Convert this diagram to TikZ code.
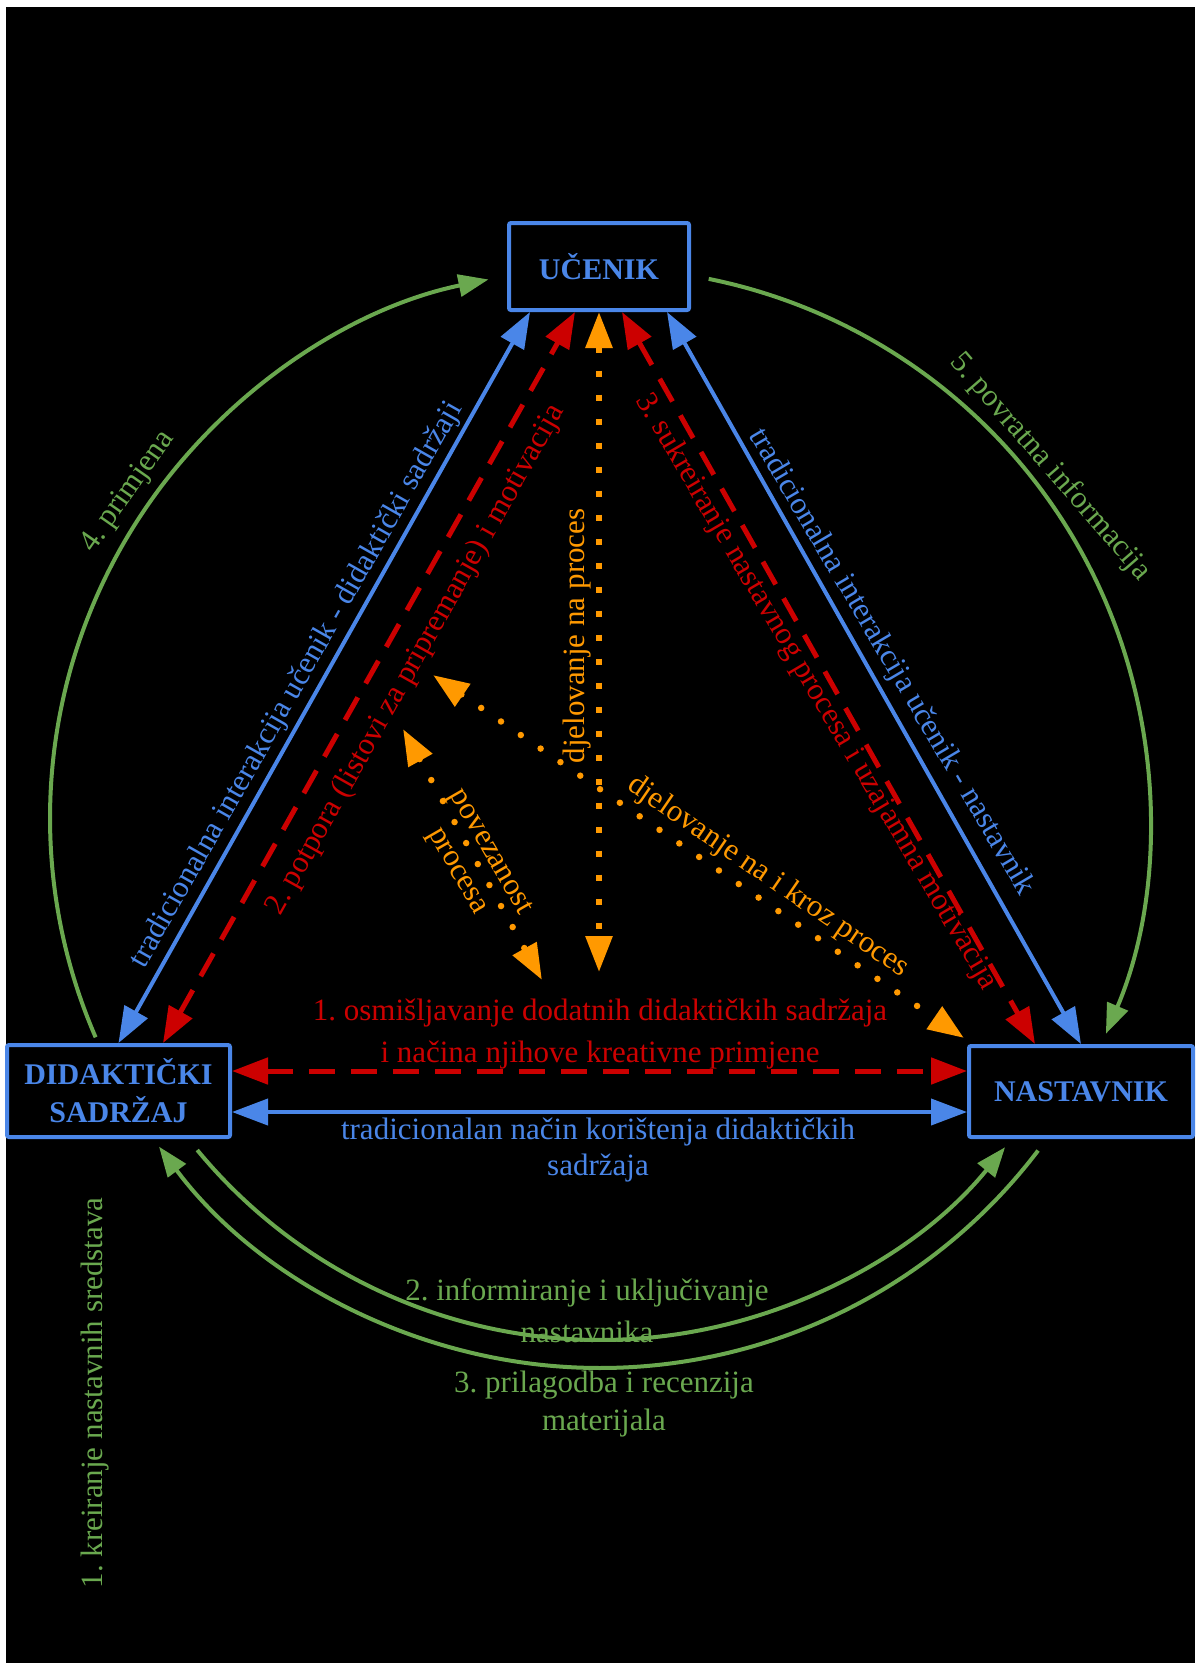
\documentclass[tikz,border=0pt]{standalone}
\usepackage{fontspec}
\setmainfont{Liberation Serif}
\usetikzlibrary{arrows.meta,calc}
\definecolor{cblue}{HTML}{4A86E8}
\definecolor{cred}{HTML}{CC0000}
\definecolor{corange}{HTML}{FF9900}
\definecolor{cgreen}{HTML}{6AA84F}
\frenchspacing
\begin{document}
\frenchspacing
\begin{tikzpicture}[x=1pt,y=1pt,
  box/.style={draw=cblue, line width=4pt, fill=black, text=cblue, font=\fontsize{30}{38}\selectfont\bfseries, inner sep=0pt, rounded corners=2pt, align=center},
  lbl/.style={font=\fontsize{31}{38}\selectfont, inner sep=0pt, align=center},
  both/.style={{Triangle[length=36pt,width=26pt]}-{Triangle[length=36pt,width=26pt]}},
  tipg/.style={-{Triangle[length=30pt,width=22pt]}},
  bline/.style={draw=cblue, line width=4pt},
  rline/.style={draw=cred, line width=5pt, dash pattern=on 26pt off 16pt},
  oline/.style={draw=corange, line width=6pt, dash pattern=on 6pt off 18pt},
  odots/.style={draw=corange, line width=6.5pt, line cap=round, dash pattern=on 0pt off 24pt},
  gline/.style={draw=cgreen, line width=4pt},
]
\useasboundingbox (0,0) rectangle (1195,-1663);
\fill[white] (0,0) rectangle (1195,-1663);
\fill[black] (6,-7) rectangle (1195,-1663);

% boxes
\node[box, minimum width=180pt, minimum height=87pt] (uc) at (599,-266.5) {UČENIK};
\node[box, minimum width=223pt, minimum height=92pt] (did) at (118.5,-1091) {DIDAKTIČKI\\SADRŽAJ};
\node[box, minimum width=224pt, minimum height=91pt] (na) at (1081,-1091.5) {NASTAVNIK};

% free ends
\coordinate (ov) at (599,-972);
\coordinate (o1) at (433,-675);
\coordinate (o2) at (403,-729);
\coordinate (o3) at (542,-980);
\coordinate (C) at (600,-818);

% straight connectors
\draw[bline, both] (did.north) -- ([xshift=-69pt]uc.south);
\draw[rline, both] ([xshift=44.5pt]did.north) -- ([xshift=-24pt]uc.south);
\draw[oline, both] (uc.south) -- (ov);
\draw[rline, both] ([xshift=23pt]uc.south) -- ([xshift=-46pt]na.north);
\draw[bline, both] ([xshift=68pt]uc.south) -- (na.north);
\draw[rline, both] ([yshift=20pt]did.east) -- ([yshift=20.5pt]na.west);
\draw[bline, both] ([yshift=-21pt]did.east) -- ([yshift=-20.5pt]na.west);
\draw[odots, both] (o1) -- ([shift={(-3pt,6pt)}]na.north west);
\draw[odots, both] (o2) -- (o3);

% green arcs
\path (C) ++(203.5:550) coordinate (g4a);
\draw[gline, tipg] (g4a) arc[start angle=203.5, end angle=101.7, radius=550];
\path (C) ++(78.6:550) coordinate (g5a);
\draw[gline, tipg] (g5a) arc[start angle=78.6, end angle=-23.1, radius=550];
\path (C) ++(219.5:522) coordinate (g2a);
\draw[gline, tipg] (g2a) arc[start angle=219.5, end angle=320.9, radius=522];
\path (C) ++(-37.2:550) coordinate (g3a);
\draw[gline, tipg] (g3a) arc[start angle=-37.2, end angle=-143.3, radius=550];

% labels
\node[lbl, text=cblue, rotate=60.5] (lb1) at (297,-685) {tradicionalna interakcija učenik - didaktički sadržaji};
\node[lbl, text=cred, rotate=60.7] (lr1) at (416,-660) {2. potpora (listovi za pripremanje) i motivacija};
\node[lbl, text=cred, rotate=-59.5] (lr2) at (816,-692) {3. sukreiranje nastavnog procesa i uzajamna motivacija};
\node[lbl, text=cblue, rotate=-59.5] (lb2) at (891,-662) {tradicionalna interakcija učenik - nastavnik};
\node[lbl, text=corange, rotate=90] (lo1) at (577,-636) {djelovanje na proces};
\node[lbl, text=corange, rotate=-34.4] (lo2) at (768,-877) {djelovanje na i kroz proces};
\node[lbl, text=corange, rotate=-60] (lo3) at (473,-862) {povezanost\\procesa};
\node[lbl, text=cred, font=\fontsize{31}{42}\selectfont] (lr3) at (600,-1034) {1. osmišljavanje dodatnih didaktičkih sadržaja\\i načina njihove kreativne primjene};
\node[lbl, text=cblue, font=\fontsize{31}{36}\selectfont] (lb3) at (598,-1150) {tradicionalan način korištenja didaktičkih\\sadržaja};
\node[lbl, text=cgreen, font=\fontsize{31}{42}\selectfont] (lg2) at (587,-1311) {2. informiranje i uključivanje\\nastavnika};
\node[lbl, text=cgreen] (lg3) at (604,-1404) {3. prilagodba i recenzija\\materijala};
\node[lbl, text=cgreen, rotate=90] (lg1) at (95,-1393) {1. kreiranje nastavnih sredstava};
\node[lbl, text=cgreen, rotate=55] (lg4) at (128,-492) {4. primjena};
\node[lbl, text=cgreen, rotate=-49] (lg5) at (1050,-467) {5. povratna informacija};
\end{tikzpicture}
\end{document}
